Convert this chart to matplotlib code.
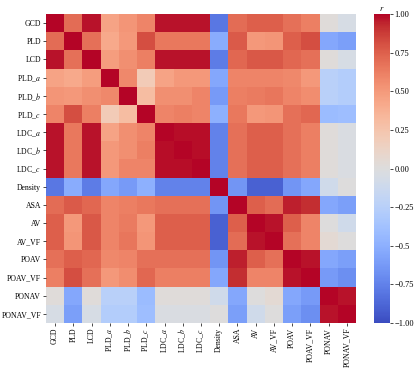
import matplotlib
matplotlib.use('Agg')
import matplotlib.pyplot as plt, numpy as np

plt.rcParams['font.family'] = ['Liberation Serif', 'DejaVu Serif']
plt.rcParams['mathtext.fontset'] = 'stix'

# variable names (rows and columns are the same)
labels = ['GCD', 'PLD', 'LCD', 'PLD_$a$', 'PLD_$b$', 'PLD_$c$', 'LDC_$a$', 'LDC_$b$', 'LDC_$c$',
	'Density', 'ASA', 'AV', 'AV_VF', 'POAV', 'POAV_VF', 'PONAV', 'PONAV_VF']

# correlation matrix
corr = [
	[1.00, 0.70, 0.97, 0.45, 0.52, 0.60, 0.97, 0.97, 0.97, -0.80, 0.70, 0.75, 0.75, 0.68, 0.62, 0.02, -0.05],
	[0.70, 1.00, 0.68, 0.42, 0.50, 0.82, 0.65, 0.65, 0.65, -0.52, 0.77, 0.50, 0.52, 0.75, 0.82, -0.55, -0.60],
	[0.97, 0.68, 1.00, 0.48, 0.55, 0.62, 0.97, 0.97, 0.97, -0.78, 0.72, 0.78, 0.78, 0.72, 0.68, 0.02, -0.05],
	[0.45, 0.42, 0.48, 1.00, 0.58, 0.20, 0.45, 0.50, 0.50, -0.55, 0.60, 0.60, 0.60, 0.58, 0.50, -0.25, -0.28],
	[0.52, 0.50, 0.55, 0.58, 1.00, 0.30, 0.55, 0.55, 0.60, -0.62, 0.62, 0.64, 0.66, 0.60, 0.56, -0.25, -0.28],
	[0.60, 0.82, 0.62, 0.20, 0.30, 1.00, 0.60, 0.62, 0.60, -0.50, 0.65, 0.50, 0.52, 0.68, 0.72, -0.42, -0.40],
	[0.97, 0.65, 0.97, 0.45, 0.55, 0.60, 1.00, 0.98, 0.98, -0.75, 0.68, 0.75, 0.75, 0.68, 0.62, 0.02, -0.03],
	[0.97, 0.65, 0.97, 0.50, 0.55, 0.62, 0.98, 1.00, 0.98, -0.75, 0.68, 0.75, 0.75, 0.68, 0.62, 0.02, -0.03],
	[0.97, 0.65, 0.97, 0.50, 0.60, 0.60, 0.98, 0.98, 1.00, -0.75, 0.68, 0.75, 0.75, 0.68, 0.62, 0.02, -0.03],
	[-0.80, -0.52, -0.78, -0.55, -0.62, -0.50, -0.75, -0.75, -0.75, 1.00, -0.65, -0.90, -0.90, -0.65, -0.55, -0.10, 0.00],
	[0.70, 0.77, 0.72, 0.60, 0.62, 0.65, 0.68, 0.68, 0.68, -0.65, 1.00, 0.75, 0.70, 0.95, 0.92, -0.55, -0.60],
	[0.75, 0.50, 0.78, 0.60, 0.64, 0.50, 0.75, 0.75, 0.75, -0.90, 0.75, 1.00, 0.97, 0.75, 0.60, 0.00, -0.10],
	[0.75, 0.52, 0.78, 0.60, 0.66, 0.52, 0.75, 0.75, 0.75, -0.90, 0.70, 0.97, 1.00, 0.68, 0.60, 0.05, 0.00],
	[0.68, 0.75, 0.72, 0.58, 0.60, 0.68, 0.68, 0.68, 0.68, -0.65, 0.95, 0.75, 0.68, 1.00, 0.97, -0.55, -0.60],
	[0.62, 0.82, 0.68, 0.50, 0.56, 0.72, 0.62, 0.62, 0.62, -0.55, 0.92, 0.60, 0.60, 0.97, 1.00, -0.62, -0.68],
	[0.02, -0.55, 0.02, -0.25, -0.25, -0.42, 0.02, 0.02, 0.02, -0.10, -0.55, 0.00, 0.05, -0.55, -0.62, 1.00, 0.97],
	[-0.05, -0.60, -0.05, -0.28, -0.28, -0.40, -0.03, -0.03, -0.03, 0.00, -0.60, -0.10, 0.00, -0.60, -0.68, 0.97, 1.00],
]

cbar_ticks = [1.0, 0.75, 0.5, 0.25, 0.0, -0.25, -0.5, -0.75, -1.0]
cbar_ticklabels = ['1.00', '0.75', '0.50', '0.25', '0.00', '\u22120.25', '\u22120.5', '\u22120.75', '\u22121.00']

fig = plt.figure(figsize=(4.17, 3.70), dpi=100)
ax = fig.add_axes([46/417, 47/370, 310/417, 309/370])
cax = fig.add_axes([374/417, 47/370, 16/417, 309/370])

data = np.array(corr)
n = len(labels)
im = ax.pcolormesh(np.arange(n+1), np.arange(n+1), data, cmap='coolwarm', vmin=-1, vmax=1)
ax.set_xlim(0, n)
ax.set_ylim(n, 0)
ax.set_xticks(np.arange(n) + 0.5)
ax.set_yticks(np.arange(n) + 0.5)
ax.set_xticklabels(labels, rotation=90, fontsize=5.6)
ax.set_yticklabels(labels, fontsize=5.6)
ax.tick_params(length=2, width=0.5, pad=1.5)
for s in ax.spines.values():
	s.set_visible(False)

cb = fig.colorbar(im, cax=cax)
cb.set_ticks(cbar_ticks)
cb.set_ticklabels(cbar_ticklabels)
cb.ax.tick_params(labelsize=6, length=2, width=0.5, pad=1)
cb.outline.set_visible(False)
cb.ax.set_title('$r$', fontsize=6, pad=2)

fig.savefig('out.png', dpi=100)
